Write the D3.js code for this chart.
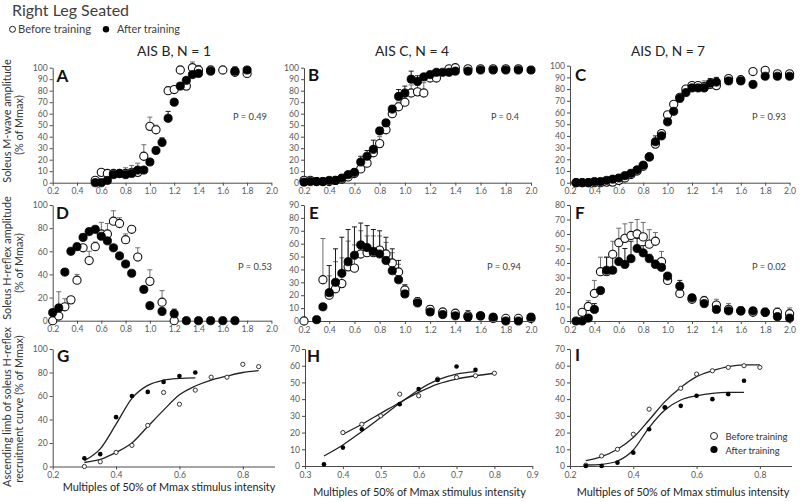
<!DOCTYPE html>
<html><head><meta charset="utf-8">
<script src="https://cdn.jsdelivr.net/npm/d3@7"></script>
<style>body{margin:0;background:#fff} svg{display:block} text{font-family:Lato,"Open Sans",sans-serif}</style>
</head><body>
<svg id="c" width="800" height="502"></svg>
<script>
// ---------- DATA ----------
const ticksX02 = [0.2,0.4,0.6,0.8,1.0,1.2,1.4,1.6,1.8,2.0];
const ticksXG = [0.2,0.4,0.6,0.8];
const ticksXH = [0.3,0.4,0.5,0.6,0.7,0.8,0.9];
const ticksY100by10 = [0,10,20,30,40,50,60,70,80,90,100];
const ticksY100by20 = [0,20,40,60,80,100];
const ticksY90 = [0,10,20,30,40,50,60,70,80,90];
const ticksY80 = [0,10,20,30,40,50,60,70,80];
const ticksY70 = [0,10,20,30,40,50,60,70];

// A: M-wave, AIS B
const xA = [0.55,0.6,0.65,0.7,0.75,0.8,0.85,0.9,0.95,1.0,1.05,1.1,1.15,1.2,1.25,1.3,1.35,1.4,1.5,1.6,1.7,1.8];
const aBefore = [2,9,8,8,8,8,9,9,23,49,46,null,80,81,98,84,100,98,98,98,96,95];
const aAfter = [0,0,2,7,8,7,8,11,11,18,28,35,56,70,84,89,94,95,97,null,97,98];
const aBeforeSD = [0,0,0,0,0,5,6,8,10,8,4,0,3,2,3,0,5,4,2,0,5,0];
const aAfterSD = [0,0,0,0,0,0,0,0,0,2,3,4,6,2,0,2,0,0,0,0,0,0];

// B: M-wave, AIS C
const xB = [0.2,0.25,0.3,0.35,0.4,0.45,0.5,0.55,0.6,0.65,0.7,0.75,0.8,0.85,0.9,0.95,1.0,1.05,1.1,1.15,1.2,1.25,1.3,1.35,1.4,1.5,1.6,1.7,1.8,1.9,2.0];
const bBefore = [2,2,1,1,1,2,3,5,8,12,17,26,34,46,60,66,70,78,79,78,91,91,null,99,100,99,99,99,99,99,null];
const bAfter = [0.5,1,1,1,2,2,4,7,9,18,23,29,45,52,64,75,78,90,88,92,94,96,96,96,97,97,98,98,98,98,98];
const bBeforeSD = [0,0,0,0,0,0,0,1,2,3,3,4,6,3,3,4,5,7,6,9,0,0,0,0,0,0,0,0,0,0,0];
const bAfterSD = [0,0,0,0,0,0,1,1,3,5,5,8,3,2,3,6,6,7,5,2,1,0,0,0,0,0,0,0,0,0,0];

// C: M-wave, AIS D
const xC = [0.25,0.3,0.35,0.4,0.45,0.5,0.55,0.6,0.65,0.7,0.75,0.8,0.85,0.9,0.95,1.0,1.05,1.1,1.15,1.2,1.25,1.3,1.35,1.4,1.5,1.6,1.7,1.8,1.9,2.0];
const cBefore = [0,0,0,0,0,0.5,0.5,2,4,7,10,14,22,33,42,58,67,73,80,83,83,82,84,83,89,88,95,96,93,93];
const cAfter = [0,0,0,1,1,2,3,4,6,8,11,15,22,35,40,52,61,72,77,81,81,81,85,86,87,87,84,91,91,91];
const cBeforeSD = [0,0,0,0,0,0,0,0,0,0,0,0,1,1,1,1,1,1,2,1,1,5,1,1,1,1,0,0,0,0];
const cAfterSD = [0,0,0,0,0,0,0,0,0,0,1,1,3,5,1,1,1,1,2,3,3,3,4,4,2,2,0,0,0,0];

// D: H-reflex, AIS B
const xD = [0.2,0.25,0.3,0.35,0.4,0.45,0.5,0.55,0.6,0.65,0.7,0.75,0.8,0.85,0.9,0.95,1.0,1.1,1.2,1.3,1.4,1.5,1.6,1.7];
const dBefore = [0,4,12,18,35,63,52,64,75,75,86,84,70,79,55,null,34,16,0,null,null,null,null,null];
const dAfter = [7,11,42,60,64,72,77,79,73,69,63,56,49,41,null,27,13,8,6,0,0,0,0,0];
const dBeforeSD = [0,21,7,1,5,0,8,4,10,9,9,5,5,0,8,0,10,10,0,0,0,0,0,0];
const dAfterSD = [0,0,0,0,0,0,0,0,0,0,0,0,0,0,0,0,0,0,4,0,0,0,0,0];

// E: H-reflex, AIS C
const xE = [0.2,0.3,0.35,0.4,0.45,0.5,0.55,0.6,0.65,0.7,0.75,0.8,0.85,0.9,0.95,1.0,1.1,1.2,1.3,1.4,1.5,1.6,1.7,1.8,1.9,2.0];
const eBefore = [0,null,32,20,25,29,42,41,52,53,53,55,52,45,38,24,15,9,7,6,4,4,2,2,2,2];
const eAfter = [null,1,11,22,30,37,46,51,59,57,54,52,47,39,32,21,14,7,5,4,3,4,3,0,0,3];
const eBeforeSD = [0,0,32,15,21,20,20,18,18,13,13,11,9,8,6,4,2,2,2,1,0,0,0,0,0,0];
const eAfterSD = [0,0,0,21,26,28,25,22,17,17,17,18,18,17,15,7,4,5,4,3,5,2,0,0,0,0];

// F: H-reflex, AIS D
const xF = [0.25,0.3,0.35,0.4,0.45,0.5,0.55,0.6,0.65,0.7,0.75,0.8,0.85,0.9,0.95,1.0,1.1,1.2,1.3,1.4,1.5,1.6,1.7,1.8,1.9,2.0];
const fBefore = [null,6,10,19,34,34,46,54,57,59,60,58,53,55,41,28,19,15,14,11,8,7,6,6,6,5];
const fAfter = [0,0,2,8,21,35,35,41,39,43,50,47,43,39,37,31,24,16,12,8,7,7,7,6,3,2];
const fBeforeSD = [0,0,4,9,10,10,9,10,10,9,10,10,10,6,7,3,0,3,3,4,4,3,3,3,3,4];
const fAfterSD = [0,0,0,4,0,9,10,11,11,12,7,5,3,3,2,2,4,2,2,1,1,1,1,1,1,1];

// G: ascending limb, AIS B
const xG = [0.3,0.35,0.4,0.45,0.5,0.55,0.6,0.65,0.7,0.75,0.8,0.85];
const gBefore = [0,4,12,18,35,63,53,65,76,76,87,85];
const gAfter = [7,10.5,42,60,63.5,72,77,80,null,null,null,null];
const gBeforeFit = [3.4,6,12,20,34,48,61,68.5,73.6,77,80,81.6];
const gAfterFit = [5,15,36,58,69,73.5,75,75.5,null,null,null,null];

// H: ascending limb, AIS C
const xH = [0.35,0.4,0.45,0.5,0.55,0.6,0.65,0.7,0.75,0.8];
const hBefore = [null,20,25,30,43,42,52,53,54,55.5];
const hAfter = [1,11,22,null,37,46,51.5,59.5,57.5,null];
const hBeforeFit = [null,19,25,31.5,38,44,49,52,54,55.5];
const hAfterFit = [6,12.6,20.6,29,37.5,45.5,51.5,55,56.5,null];

// I: ascending limb, AIS D
const xI = [0.25,0.3,0.35,0.4,0.45,0.5,0.55,0.6,0.65,0.7,0.75,0.8];
const iBefore = [0.5,6,10,19,34,35,46.5,55,57,59,60,59];
const iAfter = [0,0,2,8,22,35,36,42,40,43,51,null];
const iBeforeFit = [3.2,5.6,10,17,27.5,38.5,47,53.5,57,59.5,60.5,60.5];
const iAfterFit = [0.6,1,3,9.6,23,33.5,39.5,42,43.5,44,44,null];

const groupTitles = ["AIS B, N = 1","AIS C, N = 4","AIS D, N = 7"];
const pValues = ["P = 0.49","P = 0.4","P = 0.93","P = 0.53","P = 0.94","P = 0.02"];

// ---------- LAYOUT ----------
const svg = d3.select('#c');
const FONT = 'Lato, "Open Sans", sans-serif';
const probe = svg.append('text').attr('font-size',12).attr('font-family',FONT).text('Multiples of 50% of Mmax stimulus intensity');
const K = 213 / probe.node().getComputedTextLength();
probe.remove();
const fs = s => (s*K).toFixed(2);
// scale font so a text spans a given width
function fitTo(sel, w){
  const cur = sel.node().getComputedTextLength();
  const f = parseFloat(sel.attr('font-size'));
  sel.attr('font-size', (f*w/cur).toFixed(2));
  return sel;
}

const TXT = '#404040', TICK = '#595959', AX = '#4a4a4a';

const panels = [
 {L:'A',xd:[0.2,2.0],xr:[52.7,271.4],yd:[0,100],yr:[182.7,67.7],xt:ticksX02,yt:ticksY100by10,x:xA,b:aBefore,a:aAfter,bs:aBeforeSD,as:aAfterSD,p:pValues[0],pp:[233,119.5],lp:[56.5,81.5]},
 {L:'B',xd:[0.2,2.0],xr:[304,531],yd:[0,100],yr:[182.7,67.7],xt:ticksX02,yt:ticksY100by10,x:xB,b:bBefore,a:bAfter,bs:bBeforeSD,as:bAfterSD,p:pValues[1],pp:[491,119.5],lp:[308,81]},
 {L:'C',xd:[0.2,2.0],xr:[570,789.6],yd:[0,100],yr:[182.7,65.7],xt:ticksX02,yt:ticksY100by10,x:xC,b:cBefore,a:cAfter,bs:cBeforeSD,as:cAfterSD,p:pValues[2],pp:[752,119.5],lp:[575,80.5]},
 {L:'D',xd:[0.2,2.0],xr:[52.7,271.4],yd:[0,100],yr:[320.7,205],xt:ticksX02,yt:ticksY100by20,x:xD,b:dBefore,a:dAfter,bs:dBeforeSD,as:dAfterSD,p:pValues[3],pp:[238,270],lp:[56,218.5]},
 {L:'E',xd:[0.2,2.0],xr:[304,531],yd:[0,90],yr:[321,205],xt:ticksX02,yt:ticksY90,x:xE,b:eBefore,a:eAfter,bs:eBeforeSD,as:eAfterSD,p:pValues[4],pp:[487,270],lp:[309,218.5]},
 {L:'F',xd:[0.2,2.0],xr:[570,789.6],yd:[0,80],yr:[321,205],xt:ticksX02,yt:ticksY80,x:xF,b:fBefore,a:fAfter,bs:fBeforeSD,as:fAfterSD,p:pValues[5],pp:[752,270],lp:[575,218.5]},
 {L:'G',xd:[0.2,0.9],xr:[52.7,274.5],yd:[0,100],yr:[466.5,349],xt:ticksXG,yt:ticksY100by20,x:xG,b:gBefore,a:gAfter,bf:gBeforeFit,af:gAfterFit,lp:[57,362],small:true},
 {L:'H',xd:[0.3,0.9],xr:[305,532.3],yd:[0,70],yr:[466,349],xt:ticksXH,yt:ticksY70,x:xH,b:hBefore,a:hAfter,bf:hBeforeFit,af:hAfterFit,lp:[307,362],small:true},
 {L:'I',xd:[0.2,0.9],xr:[570,791.5],yd:[0,70],yr:[466,349],xt:ticksXG,yt:ticksY70,x:xI,b:iBefore,a:iAfter,bf:iBeforeFit,af:iAfterFit,lp:[575,361],small:true}
];

function styleAxis(g){
  g.select('.domain').attr('stroke',AX).attr('stroke-width',1);
  g.selectAll('.tick line').attr('stroke',AX);
  g.selectAll('.tick text').attr('fill',TICK).attr('font-size',fs(9.5)).attr('font-family',FONT);
}

panels.forEach(P=>{
  const x = d3.scaleLinear().domain(P.xd).range(P.xr);
  const y = d3.scaleLinear().domain(P.yd).range(P.yr);
  const g = svg.append('g');
  g.append('g').attr('transform',`translate(0,${P.yr[0]})`)
    .call(d3.axisBottom(x).tickValues(P.xt).tickFormat(d3.format('.1f')).tickSize(3).tickPadding(2.5).tickSizeOuter(0))
    .call(styleAxis);
  g.append('g').attr('transform',`translate(${P.xr[0]},0)`)
    .call(d3.axisLeft(y).tickValues(P.yt).tickFormat(d3.format('d')).tickSize(3).tickPadding(2).tickSizeOuter(0))
    .call(styleAxis);

  const pts = (vals, sds) => P.x.map((xv,i)=>({x:xv,v:vals[i],sd:sds?sds[i]:0})).filter(d=>d.v!=null);
  const before = pts(P.b, P.bs), after = pts(P.a, P.as);

  if(!P.small){
    [[before,'#6e6e6e'],[after,'#1a1a1a']].forEach(([arr,col])=>{
      const eb = g.append('g').attr('stroke',col).attr('stroke-width',1).attr('fill','none');
      arr.filter(d=>d.sd>0).forEach(d=>{
        const cx = x(d.x), y0 = y(d.v), y1 = y(d.v+d.sd);
        eb.append('line').attr('x1',cx).attr('x2',cx).attr('y1',y0).attr('y2',y1);
        eb.append('line').attr('x1',cx-2.5).attr('x2',cx+2.5).attr('y1',y1).attr('y2',y1);
      });
    });
    g.append('g').selectAll('circle').data(before).join('circle')
      .attr('cx',d=>x(d.x)).attr('cy',d=>y(d.v)).attr('r',4.1)
      .attr('fill','#fff').attr('stroke','#111').attr('stroke-width',1.1);
    g.append('g').selectAll('circle').data(after).join('circle')
      .attr('cx',d=>x(d.x)).attr('cy',d=>y(d.v)).attr('r',4.1)
      .attr('fill','#000').attr('stroke','#000').attr('stroke-width',0.8);
    const pt = g.append('text').attr('x',P.pp[0]).attr('y',P.pp[1]).attr('fill',TXT)
      .attr('font-size',fs(10.5)).text(P.p);
    fitTo(pt, P.p.length===7 ? 28 : 34);
  } else {
    const line = d3.line().x(d=>x(d.x)).y(d=>y(d.v)).curve(d3.curveMonotoneX);
    [P.bf,P.af].forEach(f=>{
      g.append('path').attr('d',line(P.x.map((xv,i)=>({x:xv,v:f[i]})).filter(d=>d.v!=null)))
        .attr('fill','none').attr('stroke','#222').attr('stroke-width',1.3);
    });
    g.append('g').selectAll('circle').data(before).join('circle')
      .attr('cx',d=>x(d.x)).attr('cy',d=>y(d.v)).attr('r',2.1)
      .attr('fill','#fff').attr('stroke','#333').attr('stroke-width',1);
    g.append('g').selectAll('circle').data(after).join('circle')
      .attr('cx',d=>x(d.x)).attr('cy',d=>y(d.v)).attr('r',2.3)
      .attr('fill','#000');
  }
  g.append('text').attr('x',P.lp[0]).attr('y',P.lp[1]).attr('fill','#111')
    .attr('font-family','"Liberation Sans",Arial,sans-serif').attr('font-weight','bold')
    .attr('font-size',17).text(P.L);
});

// header
fitTo(svg.append('text').attr('x',12).attr('y',16).attr('fill',TXT).attr('font-size',fs(16.5)).text('Right Leg Seated'), 117);
svg.append('circle').attr('cx',12.5).attr('cy',29.3).attr('r',3).attr('fill','#fff').attr('stroke','#222').attr('stroke-width',1);
fitTo(svg.append('text').attr('x',18).attr('y',33.3).attr('fill',TXT).attr('font-size',fs(12)).text('Before training'), 73);
svg.append('circle').attr('cx',106).attr('cy',29.3).attr('r',3.2).attr('fill','#000');
fitTo(svg.append('text').attr('x',117).attr('y',33.3).attr('fill',TXT).attr('font-size',fs(12)).text('After training'), 63);

// group titles
[174,412,668].forEach((cx,i)=>{
  fitTo(svg.append('text').attr('x',cx).attr('y',55.5).attr('text-anchor','middle').attr('fill','#222')
    .attr('font-size',fs(15)).text(groupTitles[i]), 74);
});

// x titles for bottom row
[[169,491],[419.5,496],[683,496]].forEach(([cx,cy])=>{
  svg.append('text').attr('x',cx).attr('y',cy).attr('text-anchor','middle').attr('fill','#222')
    .attr('font-size',fs(12)).text('Multiples of 50% of Mmax stimulus intensity');
});

// y titles
const yTitles = [
  [['Soleus M-wave amplitude',121],['(% of Mmax)',125]],
  [['Soleus H-reflex amplitude',258],['(% of Mmax)',263]],
  [['Ascending limb of soleus H-reflex',407],['recruitment curve (% of Mmax)',409]]
];
yTitles.forEach(rows=>{
  rows.forEach(([t,cy],j)=>{
    const bx = j===0 ? 11 : 22.5;
    svg.append('text').attr('transform',`translate(${bx},${cy}) rotate(-90)`)
      .attr('text-anchor','middle').attr('fill','#333').attr('font-size',fs(12)).text(t);
  });
});

// legend in panel I
svg.append('circle').attr('cx',714).attr('cy',436).attr('r',3.5).attr('fill','#fff').attr('stroke','#222').attr('stroke-width',1);
fitTo(svg.append('text').attr('x',725.5).attr('y',440).attr('fill','#333').attr('font-size',fs(10.3)).text('Before training'), 62);
svg.append('circle').attr('cx',714).attr('cy',449.5).attr('r',3.6).attr('fill','#000');
fitTo(svg.append('text').attr('x',725.5).attr('y',453.5).attr('fill','#333').attr('font-size',fs(10.3)).text('After training'), 54);
</script>
</body></html>
